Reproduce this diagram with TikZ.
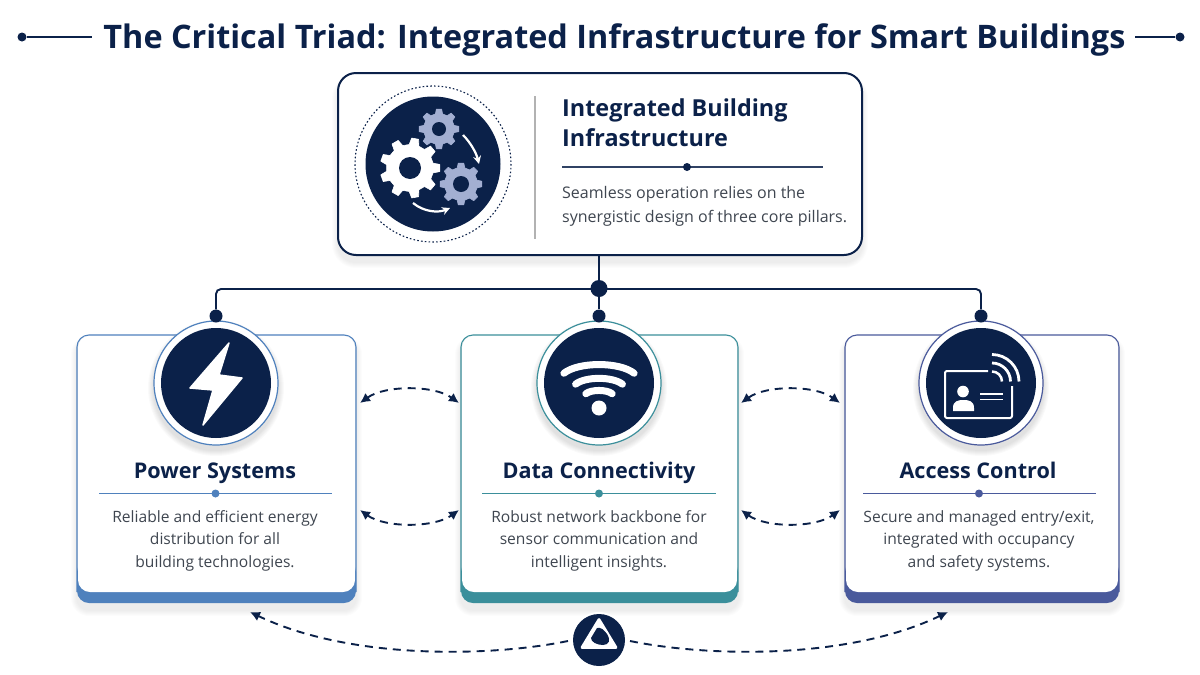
\documentclass[tikz,border=0pt]{standalone}
\usepackage{fontspec}
\setmainfont{Open Sans}
\usetikzlibrary{arrows.meta,calc}
\definecolor{navy}{HTML}{0B2149}
\definecolor{bodygray}{HTML}{3F4650}
\definecolor{pblue}{HTML}{4F81BD}
\definecolor{pteal}{HTML}{3B8F9B}
\definecolor{pind}{HTML}{4A5A9C}
\definecolor{gearb}{HTML}{A3AFD2}
\newcommand{\softshadow}[5]{% x0 y0 x1 y1 radius
  \foreach \s in {1,...,6}{
    \fill[black,opacity=0.012,rounded corners=#5+\s]
      (#1-\s,#2-\s+7) rectangle (#3+\s,#4+\s+7);}
}
\newcommand{\softdisc}[3]{%
  \foreach \s in {1,...,6}{
    \fill[black,opacity=0.02] (#1,#2+5) circle[radius=#3+\s];}
}
\newcommand{\gearshape}[7]{% cx cy rout rroot hole teeth color
  \begin{scope}[shift={(#1,#2)}]
  \fill[#7,line join=round,draw=#7,line width=.6pt] (-360/#6*0.30:#4)
    \foreach \i in {0,...,\numexpr#6-1\relax}{
      -- ({\i*360/#6-360/#6*0.30}:#4) -- ({\i*360/#6-360/#6*0.17}:#3) --
      ({\i*360/#6+360/#6*0.17}:#3) -- ({\i*360/#6+360/#6*0.30}:#4)
    } -- cycle;
  \fill[navy] (0,0) circle[radius=#5];
  \end{scope}
}
\tikzset{
  x=1pt,y=-1pt,
  titletext/.style={font=\fontsize{32.4}{40}\selectfont\bfseries,text=navy,inner sep=0pt,anchor=base},
  cardtitle/.style={font=\fontsize{21.6}{28}\selectfont\bfseries,text=navy,inner sep=0pt,anchor=base},
  bodytext/.style={font=\fontsize{15.6}{22.6}\selectfont,text=bodygray,align=center,inner sep=0pt,anchor=base},
  link/.style={draw=navy,line width=1.9pt},
  junction/.style={circle,fill=navy,inner sep=0pt,minimum size=#1},
  duplex/.style={draw=navy,line width=1.9pt,dash pattern=on 8pt off 6pt,
     {Latex[length=10pt,width=10pt]}-{Latex[length=10pt,width=10pt]}},
  oneway/.style={draw=navy,line width=1.9pt,dash pattern=on 8pt off 6pt,-{Latex[length=10pt,width=10pt]}},
}
\begin{document}
\begin{tikzpicture}
\useasboundingbox (0,0) rectangle (1200,675);
\fill[white] (0,0) rectangle (1200,675);
% title
\node[titletext] (title) at (614.5,48) {The Critical Triad: Integrated Infrastructure for Smart Buildings};
\node[junction=9pt] (tl) at (22,37) {};
\coordinate (tle) at (92,37);
\draw[draw=navy,line width=1.6pt] (tl) -- (tle);
\node[junction=9pt] (tr) at (1180,37) {};
\coordinate (tre) at (1135,37);
\draw[draw=navy,line width=1.6pt] (tr) -- (tre);
% top box
\softshadow{338}{73}{862}{255}{18}
\node[draw=navy,line width=2pt,fill=white,rounded corners=18pt,minimum width=524pt,minimum height=182pt,inner sep=0pt] (top) at (600,164) {};
\fill[navy] (433,164) circle[radius=67.5];
\draw[navy,line width=1.1pt,dash pattern=on 1.6pt off 2.2pt] (433,164) circle[radius=78];
\gearshape{439}{129}{20}{15.5}{7}{8}{gearb}
\gearshape{461}{184}{21}{16.5}{8}{8}{gearb}
\gearshape{410}{168}{30}{23.5}{11}{9}{white}
\draw[white,line width=2.2pt,-{Stealth[length=8pt,width=8pt]}] (463,135) .. controls (470,142) and (476,152) .. (479,164);
\draw[white,line width=2.2pt,-{Stealth[length=8pt,width=8pt]}] (413,203) .. controls (424,212) and (438,213) .. (450,208);
\draw[draw=black!30,line width=1.2pt] (535,96) -- (535,239);
\node[font=\fontsize{23.4}{30}\selectfont\bfseries,text=navy,align=left,inner sep=0pt,anchor=north west] (toptitle) at (562,99) {Integrated Building\\Infrastructure};
\draw[draw=navy!85,line width=1.2pt] (562,167) -- (823,167);
\node[junction=8pt] (topdot) at (687,167) {};
\node[font=\fontsize{16}{24}\selectfont,text=bodygray,align=left,inner sep=0pt,anchor=north west] (topbody) at (562,186) {Seamless operation relies on the\\synergistic design of three core pillars.};
% cards
\foreach \xa/\xb/\cc/\nm in {77/356/pblue/a,461/738/pteal/b,845/1119/pind/c}{
  \softshadow{\xa}{335}{\xb}{603}{12}
  \fill[\cc,rounded corners=12pt] (\xa,560) rectangle (\xb,603);
  \fill[white,rounded corners=12pt] (\xa+1,336) rectangle (\xb-1,592);
  \draw[\cc,line width=1.1pt,rounded corners=12pt] (\xa,592) -- (\xa,335) -- (\xb,335) -- (\xb,592);
}
% connectors
\coordinate (hl) at (216,289);
\coordinate (hr) at (981,289);
\foreach \cx/\cc in {216/pblue,599/pteal,981/pind}{
  \softdisc{\cx}{383}{62}
  \fill[white] (\cx,383) circle[radius=62];
  \draw[\cc,line width=1.2pt] (\cx,383) circle[radius=62];
  \fill[navy] (\cx,383) circle[radius=55];
}
\node[junction=17pt] (jm) at (599,288.5) {};
\node[junction=13pt] (ja) at (216,316) {};
\node[junction=13pt] (jb) at (599,316) {};
\node[junction=13pt] (jc) at (981,316) {};
\draw[link] (top.south -| jm) -- (jm);
\draw[link] (jm) -- (jb);
\draw[link,rounded corners=5pt] (ja) -- (hl) -- (hr) -- (jc);
% bolt
\fill[white,draw=white,line width=1.5pt,line join=round] (229,343) -- (190,388) -- (213,390) -- (203,425) -- (242,378) -- (219,375) -- cycle;
% wifi
\fill[white] (599,408) circle[radius=7.5];
\foreach \r in {18,32,48}{
  \draw[white,line width=7pt,line cap=round] ($(599,406)+(-43:\r)$)
    .. controls ($(599,406)+(-65:\r*1.02)$) and ($(599,406)+(-115:\r*1.02)$) .. ($(599,406)+(-137:\r)$);
}
% id card
\draw[white,line width=2pt,line join=round,rounded corners=2pt] (988,371) -- (945,371) -- (945,418) -- (1012,418) -- (1012,386);
\fill[white] (963,391.5) circle[radius=5.8];
\fill[white] (953,411) -- (953,408) .. controls (953,401) and (958,400) .. (963.5,400) .. controls (969,400) and (974,401) .. (974,408) -- (974,411) -- cycle;
\draw[white,line width=1.2pt] (980,394) -- (1003,394) (980,399.5) -- (1003,399.5);
\foreach \r/\w in {10/2.5pt,18.5/2.8pt,27/2.8pt}{
  \draw[white,line width=\w] (992,381.5-\r) .. controls (992+0.55*\r,381.5-\r) and (992+\r,381.5-0.55*\r) .. (992+\r,381.5);
}
% card text
\node[cardtitle] (ta) at (215,478) {Power Systems};
\node[cardtitle] (tb) at (599,478) {Data Connectivity};
\node[cardtitle] (tc) at (978,478) {Access Control};
\draw[pblue,line width=1.3pt] (99,493.5) -- (332,493.5);
\draw[pteal,line width=1.3pt] (482,493.5) -- (716,493.5);
\draw[pind,line width=1.3pt] (863,493.5) -- (1096,493.5);
\fill[pblue] (215.5,493.5) circle[radius=4];
\fill[pteal] (599,493.5) circle[radius=4];
\fill[pind] (979,493.5) circle[radius=4];
\foreach \nm/\cx/\la/\lb/\lc in {a/215/Reliable and efficient energy/distribution for all/building technologies.,
  b/599/Robust network backbone for/sensor communication and/intelligent insights.,
  c/979/{Secure and managed entry/exit,}/integrated with occupancy/and safety systems.}{
  \node[bodytext] (b\nm1) at (\cx,522) {\la};
  \node[bodytext] (b\nm2) at (\cx,544.5) {\lb};
  \node[bodytext] (b\nm3) at (\cx,567) {\lc};
}
% peer arrows
\coordinate (u1) at (360,403); \coordinate (u2) at (459,403);
\coordinate (l1) at (360,510); \coordinate (l2) at (459,510);
\coordinate (u3) at (741,403); \coordinate (u4) at (840,403);
\coordinate (l3) at (741,510); \coordinate (l4) at (840,510);
\draw[duplex] (u1) .. controls (385,385) and (434,385) .. (u2);
\draw[duplex] (l1) .. controls (385,528) and (434,528) .. (l2);
\draw[duplex] (u3) .. controls (766,385) and (815,385) .. (u4);
\draw[duplex] (l3) .. controls (766,528) and (815,528) .. (l4);
% bottom
\fill[white] (599,640) circle[radius=28];
\node[circle,fill=navy,minimum size=52pt,inner sep=0pt] (bot) at (599,640) {};
\coordinate (bl) at (250,612);
\coordinate (br) at (948,612);
\draw[oneway] (568,641) .. controls (490,657) and (350,660) .. (bl);
\draw[oneway] (630,641) .. controls (708,657) and (848,660) .. (br);
\draw[white,line width=2.8pt,line join=round,fill=white] (599,619.5) -- (582,647.5) -- (616,647.5) -- cycle;
\fill[navy] (597,628) .. controls (601,627) and (604,630) .. (607,634) .. controls (611,640) and (609,645) .. (603,645) .. controls (597,645) and (591,642) .. (591,638) -- cycle;
\end{tikzpicture}
\end{document}
